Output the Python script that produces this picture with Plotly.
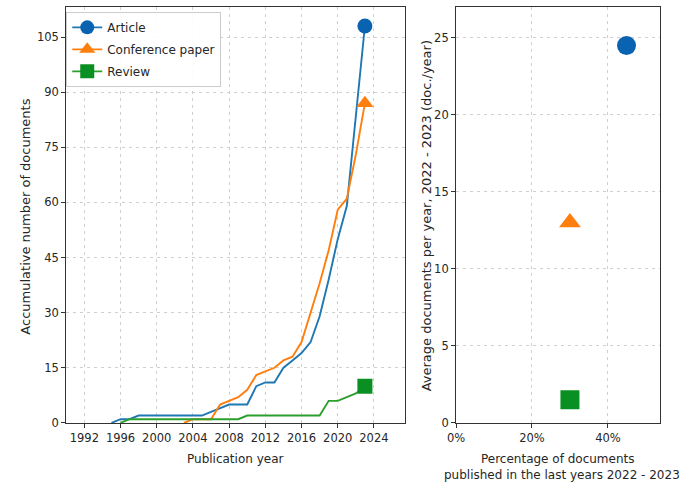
import plotly.graph_objects as go

# Cumulative document counts by publication year
years_article = list(range(1995, 2024))
article = [0, 1, 1, 2, 2, 2, 2, 2, 2, 2, 2, 3, 4, 5, 5, 5, 10, 11, 11, 15,
           17, 19, 22, 29, 39, 50, 59, 83, 108]

years_conf = list(range(2003, 2024))
conference = [0, 1, 1, 1, 5, 6, 7, 9, 13, 14, 15, 17, 18, 22, 30, 38, 47,
              58, 61, 73, 87]

years_review = list(range(1996, 2024))
review = [0, 1, 1, 1, 1, 1, 1, 1, 1, 1, 1, 1, 1, 1, 2, 2, 2, 2, 2, 2, 2, 2,
          2, 6, 6, 7, 8, 10]

# Recent activity summary (2022 - 2023)
doc_types = ["Article", "Conference paper", "Review"]
pct_recent = [0.449, 0.30, 0.30]
avg_per_year = [24.5, 13.0, 1.5]

year_ticks = list(range(1992, 2025, 4))
count_ticks = list(range(0, 106, 15))
avg_ticks = list(range(0, 26, 5))
pct_ticks = [0, 0.2, 0.4]

line_colors = ["#1f77b4", "#ff7f0e", "#2ca02c"]
marker_colors = ["#0a63b0", "#ff7f0e", "#0a8f22"]
symbols = ["circle", "triangle-up", "square"]

W, H = 683, 491
FONT = "DejaVu Sans"
TXT = "#262626"

fig = go.Figure()

series = [(years_article, article), (years_conf, conference), (years_review, review)]
for i, (xs, ys) in enumerate(series):
    # cumulative line
    fig.add_trace(go.Scatter(
        x=xs, y=ys, mode="lines", line=dict(color=line_colors[i], width=1.9),
        showlegend=False, xaxis="x", yaxis="y", hoverinfo="skip"))
    # end-point marker
    fig.add_trace(go.Scatter(
        x=[xs[-1]], y=[ys[-1]], mode="markers",
        marker=dict(symbol=symbols[i], size=15, color=marker_colors[i],
                    line=dict(width=0)),
        showlegend=False, xaxis="x", yaxis="y"))
    # legend entry (one group per type so the group gap spaces the rows)
    fig.add_trace(go.Scatter(
        x=[None], y=[None], mode="lines+markers", name=doc_types[i],
        legendgroup=doc_types[i],
        line=dict(color=line_colors[i], width=1.9),
        marker=dict(symbol=symbols[i], size=14, color=marker_colors[i]),
        xaxis="x", yaxis="y"))

for i in range(3):
    fig.add_trace(go.Scatter(
        x=[pct_recent[i]], y=[avg_per_year[i]], mode="markers",
        marker=dict(symbol=symbols[i], size=19, color=marker_colors[i],
                    line=dict(width=0)),
        showlegend=False, xaxis="x2", yaxis="y2"))

left_dom = [58 / W, 401 / W]
right_dom = [453 / W, 660 / W]
y_dom = [(H - 429) / H, (H - 7) / H]

axis_common = dict(
    showline=True, linecolor="#333333", linewidth=1, mirror=True,
    ticks="outside", ticklen=4, tickcolor="#333333", tickwidth=1,
    showgrid=True, gridcolor="#cfcfcf", griddash="3px,4px", gridwidth=1,
    zeroline=False, tickfont=dict(family=FONT, size=11.5, color=TXT),
)

fig.update_layout(
    width=W, height=H, margin=dict(l=0, r=0, t=0, b=0),
    paper_bgcolor="white", plot_bgcolor="white",
    font=dict(family=FONT, size=11.5, color=TXT),
    xaxis=dict(domain=left_dom, range=[1990, 2027.4], tickvals=year_ticks,
               anchor="y", **axis_common),
    yaxis=dict(domain=y_dom, range=[0, 113.2], tickvals=count_ticks,
               anchor="x", **axis_common),
    xaxis2=dict(domain=right_dom, range=[0, 0.538], tickvals=pct_ticks,
                tickformat=".0%", anchor="y2", **axis_common),
    yaxis2=dict(domain=y_dom, range=[0, 27], tickvals=avg_ticks,
                anchor="x2", **axis_common),
    legend=dict(x=58 / W, y=(H - 12) / H, xanchor="left", yanchor="top",
                bgcolor="rgba(255,255,255,0.9)", bordercolor="#cccccc",
                borderwidth=1, font=dict(family=FONT, size=12, color=TXT),
                itemwidth=30, traceorder="grouped", tracegroupgap=3),
    showlegend=True,
)

ann = dict(xref="paper", yref="paper", showarrow=False)
hfont = dict(family=FONT, size=12, color=TXT)
vfont = dict(family=FONT, size=13, color=TXT)
fig.add_annotation(text="Publication year", x=229.5 / W, y=(H - 466) / H,
                   xanchor="center", yanchor="middle", font=hfont, **ann)
fig.add_annotation(text="Accumulative number of documents", x=17 / W,
                   y=(H - 220) / H, textangle=-90, xanchor="center",
                   yanchor="middle", font=vfont, **ann)
fig.add_annotation(text="Percentage of documents", x=556 / W, y=(H - 466) / H,
                   xanchor="center", yanchor="middle", font=hfont, **ann)
fig.add_annotation(text="published in the last years 2022 - 2023", x=560 / W,
                   y=(H - 482) / H, xanchor="center", yanchor="middle",
                   font=hfont, **ann)
fig.add_annotation(text="Average documents per year, 2022 - 2023 (doc./year)",
                   x=423 / W, y=(H - 219) / H, textangle=-90,
                   xanchor="center", yanchor="middle", font=vfont, **ann)

fig.write_html("out.html")
